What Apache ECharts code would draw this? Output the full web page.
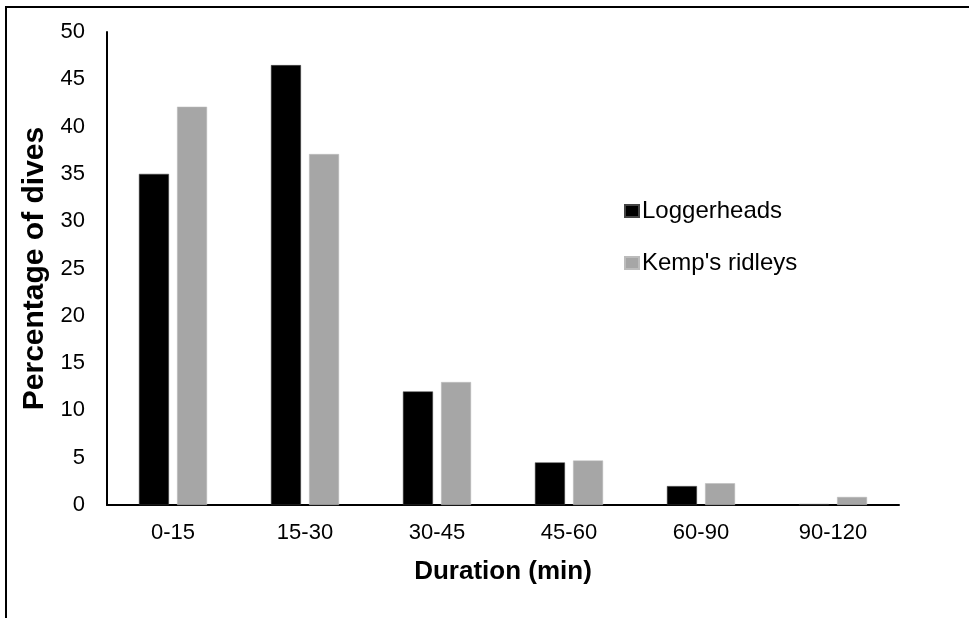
<!DOCTYPE html>
<html><head><meta charset="utf-8">
<script src="https://cdn.jsdelivr.net/npm/echarts@6/dist/echarts.min.js"></script>
<style>html,body{margin:0;padding:0;background:#fff}#c{width:969px;height:618px}</style>
</head><body><div id="c"></div>
<script>
const categories = ['0-15','15-30','30-45','45-60','60-90','90-120'];
const loggerheads = [35.0, 46.5, 12.0, 4.5, 2.0, 0.1];
const kemps = [42.1, 37.1, 13.0, 4.7, 2.3, 0.85];
const yTicks = {min: 0, max: 50, interval: 5};

const chart = echarts.init(document.getElementById('c'), null, {renderer: 'canvas'});
const font = "'Liberation Sans', Arial, sans-serif";
chart.setOption({
  animation: false,
  textStyle: {fontFamily: font, color: '#000'},
  graphic: [{
    type: 'rect', shape: {x: 6, y: 7, width: 1200, height: 1000},
    style: {fill: 'none', stroke: '#000', lineWidth: 2}, silent: true
  }],
  grid: {left: 107, right: 70, top: 32, bottom: 113, containLabel: false},
  legend: {
    orient: 'vertical', left: 619, top: 194, itemGap: 28,
    itemWidth: 14, itemHeight: 12, icon: 'rect',
    textStyle: {fontFamily: font, fontSize: 24, color: '#000', padding: [0,0,0,-2]},
    data: ['Loggerheads', "Kemp's ridleys"]
  },
  xAxis: {
    type: 'category', data: categories,
    name: 'Duration (min)', nameLocation: 'middle', nameGap: 54,
    nameTextStyle: {fontFamily: font, fontSize: 26, fontWeight: 'bold', color: '#000'},
    axisLine: {lineStyle: {color: '#000', width: 2}},
    axisTick: {show: false},
    axisLabel: {fontFamily: font, fontSize: 22, color: '#000', margin: 17}
  },
  yAxis: {
    type: 'value', min: yTicks.min, max: yTicks.max, interval: yTicks.interval,
    name: 'Percentage of dives', nameLocation: 'middle', nameGap: 48,
    nameTextStyle: {fontFamily: font, fontSize: 30, fontWeight: 'bold', color: '#000'},
    axisLine: {show: true, lineStyle: {color: '#000', width: 2}},
    axisTick: {show: false},
    splitLine: {show: false},
    axisLabel: {fontFamily: font, fontSize: 22, color: '#000', margin: 22}
  },
  series: [
    {name: 'Loggerheads', type: 'bar', data: loggerheads, barWidth: 30, barGap: '27%',
     itemStyle: {color: '#000', borderColor: '#444', borderWidth: 0.5}},
    {name: "Kemp's ridleys", type: 'bar', data: kemps, barWidth: 30,
     itemStyle: {color: '#a6a6a6', borderColor: '#bcbcbc', borderWidth: 0.5}}
  ]
});
</script></body></html>
